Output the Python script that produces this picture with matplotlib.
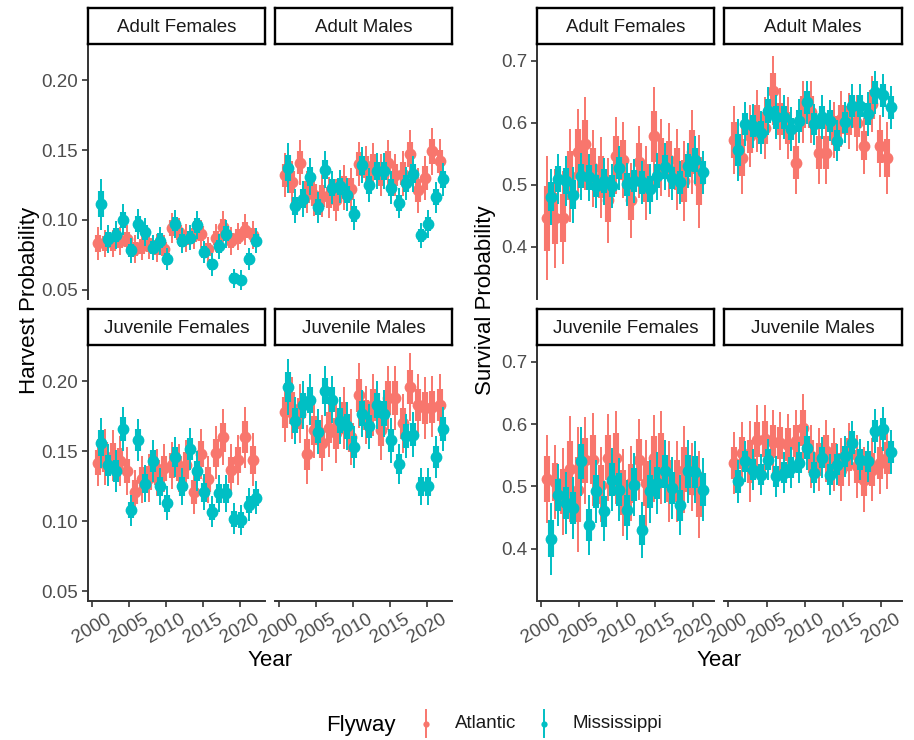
import matplotlib
matplotlib.use("Agg")
import matplotlib.pyplot as plt
from matplotlib.lines import Line2D
import numpy as np

plt.rcParams['font.family'] = ['Liberation Sans', 'DejaVu Sans']

# ---- data ----
years_h = [2001, 2002, 2003, 2004, 2005, 2006, 2007, 2008, 2009, 2010, 2011,
           2012, 2013, 2014, 2015, 2016, 2017, 2018, 2019, 2020, 2021, 2022]
years_s = [2001, 2002, 2003, 2004, 2005, 2006, 2007, 2008, 2009, 2010, 2011,
           2012, 2013, 2014, 2015, 2016, 2017, 2018, 2019, 2020, 2021]

# harvest estimates and 95% half widths
h_af_atl = [0.083, 0.083, 0.083, 0.085, 0.086, 0.079, 0.081, 0.082, 0.080, 0.079, 0.094,
            0.091, 0.087, 0.089, 0.090, 0.079, 0.087, 0.095, 0.085, 0.088, 0.093, 0.089]
h_af_atl_w = [0.012, 0.010, 0.010, 0.010, 0.010, 0.010, 0.010, 0.010, 0.010, 0.010, 0.011,
              0.010, 0.010, 0.010, 0.010, 0.009, 0.010, 0.011, 0.010, 0.010, 0.011, 0.010]
h_af_mis = [0.111, 0.086, 0.089, 0.100, 0.078, 0.097, 0.091, 0.080, 0.085, 0.072, 0.097,
            0.085, 0.087, 0.096, 0.077, 0.068, 0.081, 0.090, 0.058, 0.057, 0.072, 0.085]
h_af_mis_w = [0.018, 0.010, 0.010, 0.011, 0.009, 0.011, 0.010, 0.009, 0.010, 0.008, 0.010,
              0.009, 0.009, 0.010, 0.008, 0.008, 0.009, 0.010, 0.007, 0.007, 0.008, 0.009]

h_am_atl = [0.132, 0.127, 0.141, 0.120, 0.118, 0.117, 0.116, 0.114, 0.123, 0.122, 0.140,
            0.138, 0.139, 0.132, 0.141, 0.132, 0.133, 0.147, 0.121, 0.130, 0.149, 0.142]
h_am_atl_w = [0.016, 0.015, 0.016, 0.015, 0.015, 0.015, 0.015, 0.015, 0.016, 0.015, 0.016,
              0.015, 0.016, 0.015, 0.016, 0.015, 0.016, 0.017, 0.016, 0.016, 0.017, 0.016]
h_am_mis = [0.137, 0.110, 0.115, 0.131, 0.109, 0.136, 0.123, 0.124, 0.118, 0.104, 0.139,
            0.125, 0.135, 0.135, 0.123, 0.112, 0.126, 0.133, 0.089, 0.097, 0.116, 0.129]
h_am_mis_w = [0.018, 0.012, 0.013, 0.013, 0.011, 0.013, 0.012, 0.012, 0.012, 0.011, 0.013,
              0.012, 0.013, 0.013, 0.012, 0.011, 0.012, 0.013, 0.009, 0.010, 0.011, 0.012]

h_jf_atl = [0.142, 0.146, 0.147, 0.143, 0.136, 0.121, 0.130, 0.131, 0.135, 0.138, 0.140,
            0.138, 0.140, 0.121, 0.148, 0.130, 0.149, 0.160, 0.137, 0.144, 0.160, 0.144]
h_jf_atl_w = [0.017, 0.020, 0.018, 0.018, 0.017, 0.016, 0.017, 0.017, 0.017, 0.017, 0.017,
              0.017, 0.018, 0.016, 0.018, 0.017, 0.019, 0.020, 0.018, 0.018, 0.022, 0.019]
h_jf_mis = [0.156, 0.140, 0.136, 0.166, 0.108, 0.158, 0.127, 0.143, 0.125, 0.113, 0.146,
            0.125, 0.152, 0.136, 0.121, 0.107, 0.120, 0.120, 0.102, 0.101, 0.112, 0.117]
h_jf_mis_w = [0.018, 0.015, 0.015, 0.016, 0.011, 0.015, 0.013, 0.015, 0.013, 0.012, 0.014,
              0.013, 0.015, 0.014, 0.013, 0.011, 0.013, 0.013, 0.011, 0.011, 0.012, 0.012]

h_jm_atl = [0.178, 0.181, 0.177, 0.148, 0.165, 0.156, 0.167, 0.163, 0.174, 0.160, 0.190,
            0.176, 0.183, 0.165, 0.188, 0.188, 0.170, 0.196, 0.183, 0.181, 0.182, 0.183]
h_jm_atl_w = [0.021, 0.022, 0.021, 0.021, 0.020, 0.020, 0.021, 0.021, 0.022, 0.020, 0.023,
              0.021, 0.022, 0.021, 0.023, 0.023, 0.021, 0.024, 0.022, 0.022, 0.022, 0.022]
h_jm_mis = [0.196, 0.172, 0.183, 0.187, 0.164, 0.193, 0.187, 0.172, 0.168, 0.153, 0.177,
            0.168, 0.183, 0.177, 0.158, 0.141, 0.161, 0.162, 0.125, 0.125, 0.146, 0.166]
h_jm_mis_w = [0.020, 0.017, 0.017, 0.018, 0.016, 0.018, 0.017, 0.017, 0.017, 0.015, 0.017,
              0.016, 0.017, 0.017, 0.016, 0.014, 0.016, 0.016, 0.013, 0.013, 0.015, 0.016]

# survival estimates and 95% half widths
s_af_atl = [0.446, 0.446, 0.447, 0.515, 0.553, 0.566, 0.527, 0.512, 0.475, 0.547, 0.540,
            0.475, 0.537, 0.503, 0.578, 0.544, 0.540, 0.525, 0.506, 0.553, 0.506]
s_af_atl_w = [0.100, 0.080, 0.075, 0.075, 0.070, 0.075, 0.062, 0.065, 0.068, 0.062, 0.062,
              0.060, 0.058, 0.060, 0.080, 0.062, 0.060, 0.065, 0.065, 0.068, 0.075]
s_af_mis = [0.481, 0.509, 0.506, 0.484, 0.514, 0.512, 0.498, 0.506, 0.498, 0.527, 0.501,
            0.506, 0.504, 0.493, 0.514, 0.529, 0.511, 0.504, 0.531, 0.540, 0.520]
s_af_mis_w = [0.045, 0.040, 0.040, 0.045, 0.038, 0.038, 0.035, 0.038, 0.035, 0.035, 0.035,
              0.035, 0.035, 0.040, 0.038, 0.038, 0.035, 0.035, 0.036, 0.038, 0.035]

s_am_atl = [0.572, 0.544, 0.578, 0.603, 0.592, 0.652, 0.606, 0.592, 0.536, 0.617, 0.617,
            0.552, 0.552, 0.588, 0.606, 0.603, 0.600, 0.563, 0.630, 0.562, 0.543]
s_am_atl_w = [0.055, 0.058, 0.050, 0.050, 0.050, 0.055, 0.050, 0.050, 0.050, 0.050, 0.050,
              0.050, 0.050, 0.045, 0.045, 0.045, 0.045, 0.045, 0.045, 0.050, 0.058]
s_am_mis = [0.556, 0.598, 0.595, 0.584, 0.619, 0.609, 0.609, 0.590, 0.603, 0.633, 0.598,
            0.609, 0.603, 0.571, 0.601, 0.627, 0.627, 0.614, 0.649, 0.644, 0.625]
s_am_mis_w = [0.050, 0.035, 0.035, 0.035, 0.038, 0.035, 0.035, 0.035, 0.035, 0.035, 0.033,
              0.035, 0.033, 0.033, 0.033, 0.035, 0.035, 0.035, 0.035, 0.035, 0.035]

s_jf_atl = [0.512, 0.507, 0.492, 0.528, 0.495, 0.542, 0.543, 0.503, 0.546, 0.546, 0.490,
            0.505, 0.543, 0.505, 0.545, 0.546, 0.508, 0.508, 0.527, 0.515, 0.487]
s_jf_atl_w = [0.070, 0.060, 0.070, 0.085, 0.100, 0.070, 0.075, 0.060, 0.070, 0.075, 0.070,
              0.060, 0.065, 0.070, 0.070, 0.075, 0.065, 0.065, 0.070, 0.055, 0.070]
s_jf_mis = [0.416, 0.486, 0.473, 0.465, 0.540, 0.438, 0.492, 0.460, 0.511, 0.495, 0.462,
            0.503, 0.430, 0.492, 0.505, 0.524, 0.497, 0.470, 0.524, 0.523, 0.495]
s_jf_mis_w = [0.058, 0.050, 0.050, 0.050, 0.055, 0.048, 0.050, 0.048, 0.050, 0.050, 0.048,
              0.050, 0.045, 0.050, 0.050, 0.050, 0.050, 0.048, 0.050, 0.050, 0.050]

s_jm_atl = [0.538, 0.554, 0.540, 0.575, 0.576, 0.572, 0.570, 0.567, 0.573, 0.594, 0.548,
            0.543, 0.557, 0.543, 0.527, 0.551, 0.532, 0.511, 0.527, 0.538, 0.546]
s_jm_atl_w = [0.050, 0.050, 0.065, 0.055, 0.055, 0.050, 0.050, 0.050, 0.050, 0.055, 0.050,
              0.050, 0.050, 0.050, 0.050, 0.050, 0.050, 0.052, 0.050, 0.050, 0.050]
s_jm_mis = [0.508, 0.540, 0.527, 0.519, 0.543, 0.516, 0.522, 0.530, 0.538, 0.562, 0.522,
            0.546, 0.519, 0.535, 0.548, 0.570, 0.543, 0.540, 0.589, 0.592, 0.555]
s_jm_mis_w = [0.035, 0.033, 0.033, 0.033, 0.033, 0.033, 0.033, 0.033, 0.033, 0.035, 0.033,
              0.033, 0.033, 0.033, 0.033, 0.035, 0.033, 0.033, 0.035, 0.035, 0.035]

facet_names = ['Adult Females', 'Adult Males', 'Juvenile Females', 'Juvenile Males']
flyways = ['Atlantic', 'Mississippi']
colors = {'Atlantic': '#F8766D', 'Mississippi': '#00BFC4'}

harvest = [(h_af_atl, h_af_atl_w, h_af_mis, h_af_mis_w),
           (h_am_atl, h_am_atl_w, h_am_mis, h_am_mis_w),
           (h_jf_atl, h_jf_atl_w, h_jf_mis, h_jf_mis_w),
           (h_jm_atl, h_jm_atl_w, h_jm_mis, h_jm_mis_w)]
survival = [(s_af_atl, s_af_atl_w, s_af_mis, s_af_mis_w),
            (s_am_atl, s_am_atl_w, s_am_mis, s_am_mis_w),
            (s_jf_atl, s_jf_atl_w, s_jf_mis, s_jf_mis_w),
            (s_jm_atl, s_jm_atl_w, s_jm_mis, s_jm_mis_w)]

# ---- layout (pixels) ----
W, H = 914, 740
fig = plt.figure(figsize=(W / 100, H / 100), dpi=100)


def rect(x0, y0, x1, y1):
    return [x0 / W, 1 - y1 / H, (x1 - x0) / W, (y1 - y0) / H]


rows = [(44, 299), (345, 601)]
strip_rows = [(8, 44), (309, 345)]
axis_col = '#333333'
tick_col = '#4D4D4D'


def draw_block(cols, data, years, xlim, ylim, yticks, ylabels, ytitle, ytitle_x):
    for i in range(4):
        r, c = divmod(i, 2)
        x0, x1 = cols[c]
        y0, y1 = rows[r]
        ax = fig.add_axes(rect(x0, y0, x1, y1))
        atl, atl_w, mis, mis_w = data[i]
        for k, (est, hw) in enumerate([(atl, atl_w), (mis, mis_w)]):
            fw = flyways[k]
            x = np.array(years) + (-0.22 if k == 0 else 0.22)
            est = np.array(est)
            hw = np.array(hw)
            z = 2 + k
            ax.vlines(x, est - hw, est + hw, color=colors[fw], lw=1.4, zorder=z)
            ax.vlines(x, est - 0.52 * hw, est + 0.52 * hw, color=colors[fw], lw=4.4, zorder=z)
            ax.plot(x, est, 'o', color=colors[fw], ms=8.5, mec='none', zorder=z)
        ax.set_xlim(*xlim)
        ax.set_ylim(*ylim)
        for s in ['top', 'right']:
            ax.spines[s].set_visible(False)
        ax.spines['left'].set_visible(c == 0)
        ax.spines['bottom'].set_visible(r == 1)
        for s in ['left', 'bottom']:
            ax.spines[s].set_color(axis_col)
            ax.spines[s].set_linewidth(1.4)
        ax.tick_params(colors=axis_col, labelcolor=tick_col, labelsize=13.5,
                       length=4.5, width=1.2, pad=2.5)
        ax.set_xticks([2000, 2005, 2010, 2015, 2020])
        ax.set_yticks(yticks)
        if r == 1:
            ax.set_xticklabels(['2000', '2005', '2010', '2015', '2020'],
                               rotation=30, ha='center')
        else:
            ax.tick_params(axis='x', bottom=False, labelbottom=False)
        if c == 0:
            ax.set_yticklabels(ylabels)
        else:
            ax.tick_params(axis='y', left=False, labelleft=False)
        ax.set_facecolor('none')

        # strip
        sy0, sy1 = strip_rows[r]
        sax = fig.add_axes(rect(x0, sy0, x1, sy1))
        sax.set_xticks([])
        sax.set_yticks([])
        for s in sax.spines.values():
            s.set_color('black')
            s.set_linewidth(1.7)
        sax.text(0.5, 0.47, facet_names[i], ha='center', va='center',
                 fontsize=13.5, color='#1A1A1A', transform=sax.transAxes)

    xc = (cols[0][0] + cols[1][1]) / 2
    fig.text(xc / W, 1 - 661 / H, 'Year', ha='center', va='center', fontsize=16)
    fig.text(ytitle_x / W, 1 - 300 / H, ytitle, rotation=90, ha='center',
             va='center', fontsize=16)


draw_block([(88, 265), (275, 452)], harvest, years_h, (1999.45, 2023.45),
           (0.0432, 0.226), [0.05, 0.10, 0.15, 0.20],
           ['0.05', '0.10', '0.15', '0.20'], 'Harvest Probability', 30)
draw_block([(537, 714), (724, 902)], survival, years_s, (1999.42, 2022.7),
           (0.316, 0.727), [0.4, 0.5, 0.6, 0.7],
           ['0.4', '0.5', '0.6', '0.7'], 'Survival Probability', 485)

# ---- legend ----
fig.text(361 / W, 1 - 725 / H, 'Flyway', ha='center', va='center', fontsize=16)
for fw, kx, tx in [('Atlantic', 426, 455), ('Mississippi', 544, 573)]:
    fig.add_artist(Line2D([kx / W, kx / W], [1 - 710 / H, 1 - 737 / H],
                          color=colors[fw], lw=1.4, transform=fig.transFigure))
    fig.add_artist(Line2D([kx / W], [1 - 723.5 / H], marker='o', ms=4.5,
                          color=colors[fw], mec='none', transform=fig.transFigure))
    fig.text(tx / W, 1 - 724 / H, fw, ha='left', va='center', fontsize=13.5,
             color='#1A1A1A')

fig.savefig('out.png', dpi=100)
